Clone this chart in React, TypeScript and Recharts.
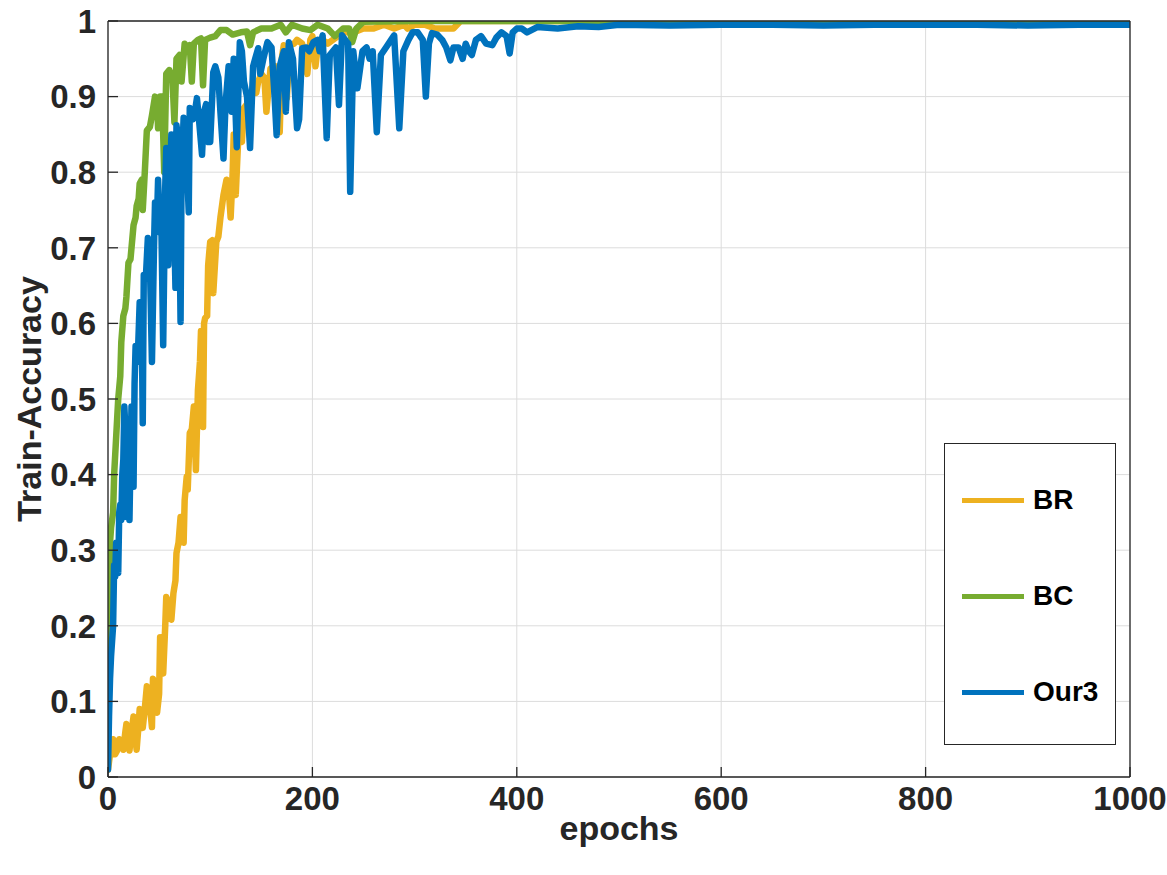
import { CartesianGrid, Line, LineChart, XAxis, YAxis } from "recharts";

// [epoch, train accuracy]
const brPoints: [number, number][] = [
  [0, 0.01], [2, 0.03], [4, 0.045], [5, 0.05], [7, 0.03], [9, 0.035], [11, 0.05],
  [13, 0.045], [15, 0.036], [17, 0.06], [18, 0.07], [20, 0.04], [21, 0.035],
  [23, 0.06], [25, 0.08], [27, 0.05], [28, 0.036], [30, 0.07], [31, 0.09],
  [33, 0.075], [34, 0.065], [36, 0.09], [38, 0.12], [40, 0.11], [42, 0.08],
  [43, 0.066], [44, 0.13], [46, 0.12], [48, 0.085], [50, 0.11], [51, 0.185],
  [53, 0.16], [54, 0.137], [56, 0.2], [57, 0.238], [59, 0.23], [62, 0.208],
  [64, 0.243], [66, 0.26], [67, 0.296], [69, 0.31], [71, 0.344], [73, 0.33],
  [74, 0.31], [75, 0.366], [77, 0.397], [78, 0.38], [80, 0.455], [82, 0.46],
  [84, 0.49], [86, 0.406], [88, 0.512], [90, 0.55], [91, 0.59], [93, 0.463],
  [94, 0.6], [95, 0.607], [97, 0.61], [98, 0.677], [100, 0.708], [102, 0.71],
  [103, 0.64], [106, 0.708], [108, 0.715], [110, 0.74], [112, 0.76], [113, 0.77],
  [116, 0.79], [118, 0.78], [120, 0.74], [122, 0.8], [123, 0.85], [125, 0.77],
  [128, 0.862], [130, 0.85], [131, 0.84], [133, 0.885], [136, 0.89], [139, 0.898],
  [142, 0.91], [145, 0.905], [147, 0.92], [150, 0.93], [153, 0.925], [155, 0.88],
  [159, 0.937], [162, 0.94], [164, 0.94], [166, 0.93], [168, 0.853], [170, 0.95],
  [172, 0.968], [175, 0.898], [178, 0.968], [182, 0.97], [185, 0.975], [190, 0.97],
  [195, 0.93], [198, 0.975], [200, 0.98], [203, 0.94], [206, 0.975], [210, 0.975],
  [215, 0.97], [220, 0.975], [225, 0.98], [230, 0.985], [240, 0.985], [250, 0.99],
  [260, 0.99], [270, 0.995], [280, 0.99], [290, 0.995], [293, 0.99], [300, 0.995],
  [310, 0.995], [320, 0.99], [330, 0.99], [338, 0.99], [345, 1], [400, 1],
  [500, 1], [600, 1], [700, 1], [800, 1], [900, 1], [1000, 1],
];

const bcPoints: [number, number][] = [
  [0, 0.12], [1, 0.22], [2, 0.31], [3, 0.33], [5, 0.35], [6, 0.4], [8, 0.45],
  [10, 0.5], [12, 0.53], [13, 0.575], [15, 0.61], [17, 0.62], [18, 0.635],
  [20, 0.68], [22, 0.685], [25, 0.73], [27, 0.74], [28, 0.755], [30, 0.765],
  [31, 0.785], [33, 0.79], [34, 0.75], [36, 0.8], [38, 0.855], [41, 0.86],
  [43, 0.875], [46, 0.9], [48, 0.895], [49, 0.858], [51, 0.9], [53, 0.9],
  [55, 0.8], [57, 0.93], [60, 0.935], [63, 0.925], [65, 0.866], [67, 0.95],
  [70, 0.955], [72, 0.92], [75, 0.97], [78, 0.965], [80, 0.968], [82, 0.92],
  [84, 0.97], [88, 0.975], [91, 0.977], [93, 0.915], [95, 0.975], [100, 0.978],
  [105, 0.98], [110, 0.988], [116, 0.988], [122, 0.982], [130, 0.985],
  [136, 0.986], [139, 0.968], [142, 0.985], [150, 0.99], [160, 0.99],
  [169, 0.995], [174, 0.985], [180, 0.995], [190, 0.99], [198, 0.988],
  [205, 0.995], [215, 0.99], [222, 0.98], [230, 0.99], [236, 0.99], [239, 0.972],
  [243, 0.99], [250, 0.999], [300, 1], [400, 1], [500, 1], [600, 1], [700, 1],
  [800, 1], [900, 1], [1000, 1],
];

const ourPoints: [number, number][] = [
  [0, 0.01], [1, 0.08], [2, 0.13], [3, 0.16], [5, 0.2], [6, 0.28], [7, 0.265],
  [8, 0.31], [9, 0.3], [10, 0.27], [11, 0.35], [12, 0.36], [13, 0.34], [14, 0.4],
  [15, 0.42], [16, 0.49], [17, 0.46], [18, 0.344], [19, 0.4], [20, 0.45],
  [21, 0.34], [22, 0.42], [23, 0.49], [24, 0.46], [25, 0.384], [26, 0.52],
  [27, 0.57], [28, 0.56], [29, 0.549], [31, 0.628], [33, 0.6], [34, 0.468],
  [35, 0.664], [37, 0.66], [39, 0.713], [41, 0.68], [43, 0.549], [45, 0.7],
  [46, 0.76], [48, 0.74], [49, 0.79], [51, 0.72], [52, 0.75], [54, 0.571],
  [56, 0.78], [57, 0.832], [59, 0.677], [61, 0.8], [62, 0.85], [64, 0.78],
  [66, 0.647], [67, 0.862], [69, 0.84], [71, 0.602], [72, 0.8], [74, 0.872],
  [76, 0.85], [79, 0.747], [80, 0.885], [83, 0.87], [85, 0.88], [87, 0.898],
  [89, 0.87], [92, 0.823], [94, 0.88], [96, 0.89], [98, 0.84], [100, 0.84],
  [102, 0.9], [103, 0.932], [105, 0.94], [108, 0.925], [110, 0.88], [113, 0.818],
  [115, 0.89], [118, 0.94], [121, 0.88], [123, 0.95], [126, 0.833], [129, 0.972],
  [131, 0.96], [133, 0.92], [136, 0.9], [139, 0.832], [142, 0.94], [144, 0.95],
  [147, 0.964], [149, 0.93], [152, 0.95], [156, 0.972], [160, 0.965], [163, 0.9],
  [165, 0.849], [168, 0.94], [172, 0.96], [174, 0.88], [177, 0.972], [181, 0.95],
  [185, 0.858], [187, 0.87], [190, 0.964], [194, 0.965], [197, 0.96], [201, 0.972],
  [205, 0.975], [207, 0.96], [210, 0.981], [214, 0.845], [217, 0.955], [220, 0.96],
  [223, 0.965], [226, 0.889], [229, 0.981], [232, 0.975], [235, 0.97], [237, 0.774],
  [240, 0.96], [244, 0.911], [249, 0.96], [253, 0.965], [256, 0.95], [259, 0.96],
  [263, 0.853], [267, 0.955], [272, 0.965], [277, 0.975], [280, 0.981], [285, 0.858],
  [289, 0.96], [294, 0.975], [298, 0.985], [303, 0.985], [308, 0.975], [311, 0.9],
  [314, 0.97], [317, 0.984], [322, 0.982], [327, 0.975], [331, 0.965], [335, 0.948],
  [338, 0.965], [343, 0.965], [347, 0.95], [350, 0.97], [353, 0.96], [356, 0.955],
  [360, 0.975], [365, 0.98], [370, 0.97], [376, 0.968], [380, 0.978], [385, 0.985],
  [390, 0.98], [393, 0.957], [396, 0.985], [400, 0.99], [405, 0.99], [410, 0.985],
  [420, 0.992], [440, 0.99], [460, 0.993], [480, 0.992], [500, 0.995], [550, 0.994],
  [600, 0.995], [650, 0.995], [700, 0.994], [750, 0.995], [800, 0.995], [850, 0.995],
  [900, 0.994], [950, 0.995], [1000, 0.995],
];

const xTicks = [0, 200, 400, 600, 800, 1000];
const yTicks = [0, 0.1, 0.2, 0.3, 0.4, 0.5, 0.6, 0.7, 0.8, 0.9, 1];

const toRows = (pts: [number, number][]) => pts.map(([x, y]) => ({ x, y }));

// drawn in MATLAB order: later series on top
const SERIES = [
  { name: "BR", color: "#EDB120", data: toRows(brPoints) },
  { name: "BC", color: "#77AC30", data: toRows(bcPoints) },
  { name: "Our3", color: "#0072BD", data: toRows(ourPoints) },
];

const W = 1167;
const H = 875;
const FONT = '"Liberation Sans", Arial, Helvetica, sans-serif';
const INK = "#262626";

const axisLine = { stroke: INK, strokeWidth: 1.3 };
const tickStyle = { fill: INK, fontSize: 33, fontWeight: 700, fontFamily: FONT };
const titleStyle = { fill: INK, fontSize: 34, fontWeight: 700, fontFamily: FONT };

export default function App() {
  return (
    <div
      style={{
        position: "absolute",
        left: 0,
        top: 0,
        width: W,
        height: H,
        background: "#fff",
        fontFamily: FONT,
      }}
    >
      <LineChart
        width={W}
        height={H}
        margin={{ top: 20, right: 36, bottom: 48, left: 0 }}
      >
        <CartesianGrid stroke="#dcdcdc" strokeWidth={1} />
        <XAxis
          dataKey="x"
          type="number"
          domain={[0, 1000]}
          ticks={xTicks}
          interval={0}
          height={50}
          tickSize={-10}
          tickMargin={20}
          axisLine={axisLine}
          tickLine={axisLine}
          tick={tickStyle}
          allowDataOverflow
          label={{
            value: "epochs",
            position: "insideBottom",
            offset: -13,
            style: titleStyle,
          }}
        />
        <XAxis
          xAxisId="top"
          orientation="top"
          dataKey="x"
          type="number"
          domain={[0, 1000]}
          ticks={xTicks}
          interval={0}
          height={1}
          tickSize={-10}
          axisLine={axisLine}
          tickLine={axisLine}
          tick={false}
          allowDataOverflow
        />
        <YAxis
          type="number"
          domain={[0, 1]}
          ticks={yTicks}
          interval={0}
          width={108}
          tickSize={-10}
          tickMargin={22}
          axisLine={axisLine}
          tickLine={axisLine}
          tick={tickStyle}
          tickFormatter={(v: number) => String(v)}
          allowDataOverflow
          label={{
            value: "Train-Accuracy",
            angle: -90,
            position: "insideLeft",
            offset: 29,
            style: { ...titleStyle, textAnchor: "middle" },
          }}
        />
        <YAxis
          yAxisId="right"
          orientation="right"
          type="number"
          domain={[0, 1]}
          ticks={yTicks}
          interval={0}
          width={1}
          tickSize={-10}
          axisLine={axisLine}
          tickLine={axisLine}
          tick={false}
          allowDataOverflow
        />
        {SERIES.map((s) => (
          <Line
            key={s.name}
            data={s.data}
            dataKey="y"
            name={s.name}
            type="linear"
            stroke={s.color}
            strokeWidth={6.5}
            strokeLinejoin="round"
            strokeLinecap="round"
            dot={false}
            activeDot={false}
            isAnimationActive={false}
          />
        ))}
      </LineChart>

      {/* legend box, MATLAB style */}
      <div
        style={{
          position: "absolute",
          left: 944,
          top: 443,
          width: 172,
          height: 302,
          border: `1px solid ${INK}`,
          background: "#fff",
          boxSizing: "border-box",
        }}
      >
        {SERIES.map((s, i) => (
          <div
            key={s.name}
            style={{
              position: "absolute",
              left: 0,
              top: 56 + i * 96 - 20,
              height: 40,
              display: "flex",
              alignItems: "center",
            }}
          >
            <div
              style={{
                marginLeft: 17,
                width: 62,
                height: 5,
                background: s.color,
              }}
            />
            <span
              style={{
                marginLeft: 9,
                fontSize: 28,
                fontWeight: 700,
                color: "#000",
                lineHeight: "40px",
              }}
            >
              {s.name}
            </span>
          </div>
        ))}
      </div>
    </div>
  );
}
